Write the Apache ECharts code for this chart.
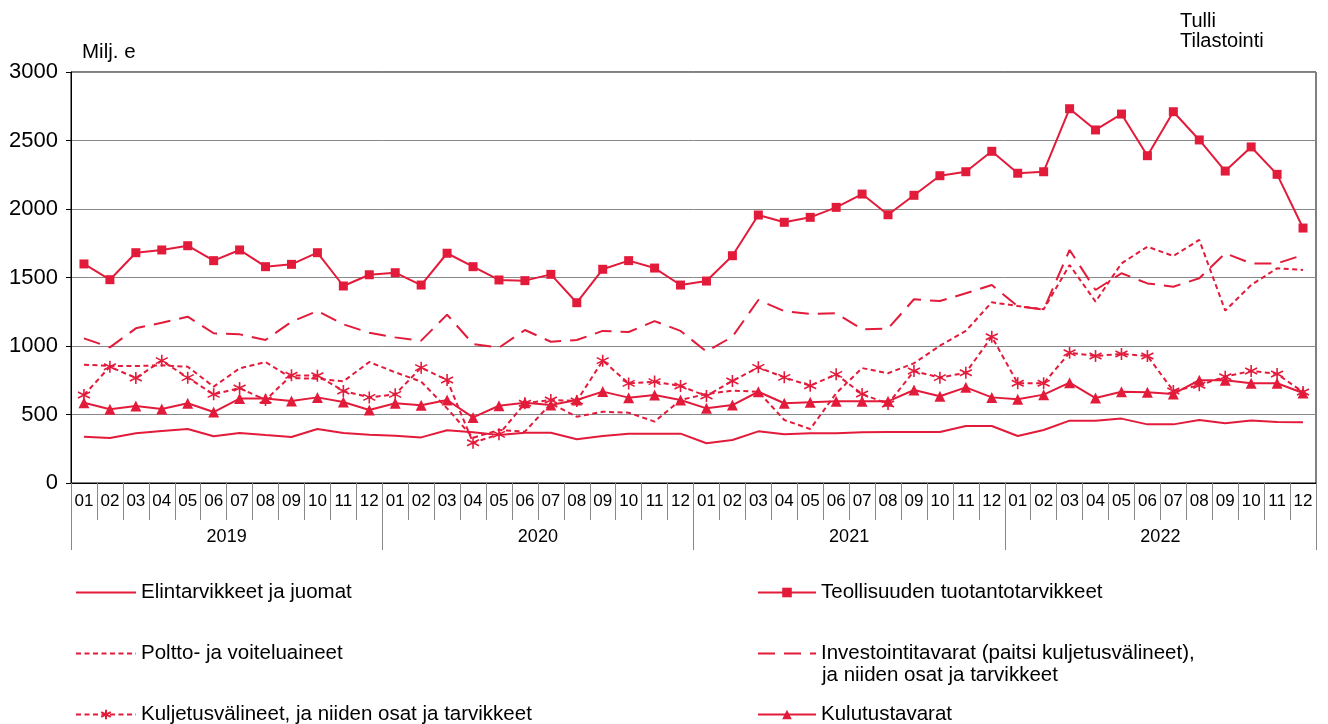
<!DOCTYPE html>
<html>
<head>
<meta charset="utf-8">
<script src="https://cdn.jsdelivr.net/npm/echarts@6/dist/echarts.min.js"></script>
<style>
html,body{margin:0;padding:0;background:#fff;}
#chart{width:1328px;height:724px;}
</style>
</head>
<body>
<div id="chart"></div>
<script>
// ---- data ----
const years = ['2019', '2020', '2021', '2022'];
const monthLabels = ['01','02','03','04','05','06','07','08','09','10','11','12'];
const yTicks = [0, 500, 1000, 1500, 2000, 2500, 3000];

const elintarvikkeet = [
  338, 328, 363, 380, 394, 341, 365, 350, 336, 394, 365, 353,
  345, 333, 385, 370, 350, 367, 367, 320, 343, 360, 360, 360,
  290, 314, 377, 355, 363, 363, 370, 372, 372, 372, 416, 416,
  343, 387, 455, 455, 470, 428, 428, 460, 436, 457, 445, 443
];
const teollisuus = [
  1599, 1484, 1681, 1701, 1732, 1623, 1701, 1579, 1596, 1681, 1438, 1520,
  1535, 1445, 1677, 1579, 1482, 1477, 1523, 1316, 1560, 1623, 1569, 1445,
  1474, 1659, 1956, 1903, 1939, 2012, 2109, 1958, 2100, 2243, 2272, 2421,
  2261, 2272, 2732, 2577, 2693, 2389, 2710, 2504, 2277, 2453, 2253, 1861
];
const poltto = [
  864, 854, 854, 859, 849, 703, 837, 883, 766, 761, 742, 883,
  808, 740, 545, 330, 387, 375, 580, 484, 520, 513, 448, 606,
  650, 674, 666, 460, 394, 655, 839, 801, 874, 1002, 1110, 1319,
  1292, 1268, 1591, 1324, 1603, 1725, 1657, 1774, 1258, 1445, 1567, 1555
];
const investointi = [
  1056, 990, 1129, 1170, 1214, 1093, 1085, 1044, 1177, 1255, 1158, 1097,
  1063, 1039, 1229, 1015, 988, 1117, 1031, 1044, 1110, 1102, 1182, 1110,
  959, 1068, 1336, 1255, 1234, 1239, 1122, 1127, 1341, 1328, 1385, 1445,
  1290, 1265, 1701, 1409, 1531, 1457, 1433, 1494, 1677, 1603, 1603, 1664
];
const kuljetus = [
  642, 849, 766, 893, 769, 647, 693, 606, 786, 783, 672, 625,
  647, 842, 752, 294, 355, 582, 606, 599, 893, 727, 740, 708,
  635, 745, 844, 771, 710, 793, 650, 577, 817, 769, 805, 1068,
  728, 728, 951, 927, 942, 927, 672, 713, 776, 818, 796, 664
];
const kulutus = [
  586, 538, 562, 540, 582, 518, 616, 616, 599, 625, 591, 533,
  582, 567, 606, 479, 564, 586, 569, 606, 667, 623, 642, 606,
  545, 569, 666, 582, 589, 596, 596, 596, 679, 633, 698, 625,
  611, 645, 732, 620, 666, 662, 650, 750, 750, 728, 728, 657
];

const names = {
  elin: 'Elintarvikkeet ja juomat',
  teol: 'Teollisuuden tuotantotarvikkeet',
  polt: 'Poltto- ja voiteluaineet',
  inve: 'Investointitavarat (paitsi kuljetusvälineet),',
  kulj: 'Kuljetusvälineet, ja niiden osat ja tarvikkeet',
  kulu: 'Kulutustavarat'
};
const inveSecondLine = 'ja niiden osat ja tarvikkeet';

// categories built from years x months
const categories = [];
years.forEach(y => monthLabels.forEach(m => categories.push(y + '-' + m)));

const RED = '#e31b3b';
const FONT = 'Liberation Sans, Arial, sans-serif';
const LEG_FS = 20.5;
const asterisk = 'path://M5,0L5,10M0.67,2.5L9.33,7.5M0.67,7.5L9.33,2.5';

const chart = echarts.init(document.getElementById('chart'), null, {renderer: 'canvas'});

function legendAt(name, left, top, width, noSymbol) {
  const l = {
    data: [name],
    left: left, top: top,
    orient: 'horizontal',
    itemWidth: width, itemHeight: 12,
    selectedMode: false,
    textStyle: {fontFamily: FONT, fontSize: LEG_FS, color: '#000'}
  };
  if (noSymbol) {
    l.itemStyle = {opacity: 0};
  }
  return l;
}

const option = {
  animation: false,
  textStyle: {fontFamily: FONT},
  title: [
    {text: 'Milj. e', left: 77, top: 37, textStyle: {fontFamily: FONT, fontSize: 20.5, fontWeight: 'normal', color: '#000'}},
    {text: 'Tulli\nTilastointi', left: 1175, top: 6, textStyle: {fontFamily: FONT, fontSize: 20, fontWeight: 'normal', color: '#000', lineHeight: 20}}
  ],
  graphic: [
    {type: 'text', left: 822, top: 665,
     style: {text: inveSecondLine, font: LEG_FS + 'px ' + FONT, fill: '#000'}}
  ],
  grid: {left: 71, right: 12, top: 72, bottom: 241, show: true, borderColor: '#000', borderWidth: 1},
  legend: [
    legendAt(names.elin, 70, 577, 60, true),
    legendAt(names.polt, 70, 638, 60, true),
    legendAt(names.kulj, 70, 699, 60, false),
    legendAt(names.teol, 752, 577, 58, false),
    legendAt(names.inve, 752, 638, 58, true),
    legendAt(names.kulu, 752, 699, 58, false)
  ],
  xAxis: [
    {
      type: 'category',
      data: categories,
      position: 'bottom',
      boundaryGap: true,
      axisLine: {show: true, lineStyle: {color: '#000', width: 1}},
      axisTick: {show: true, interval: 0, length: 37, lineStyle: {color: '#888', width: 1}},
      axisLabel: {
        interval: 0, margin: 10, fontSize: 17, color: '#000', fontFamily: FONT,
        formatter: function (v) { return v.split('-')[1]; }
      },
      splitLine: {show: false}
    },
    {
      type: 'category',
      data: years,
      position: 'bottom',
      boundaryGap: true,
      axisLine: {show: false},
      axisTick: {show: true, interval: 0, length: 67, lineStyle: {color: '#888', width: 1}},
      axisLabel: {interval: 0, margin: 45, fontSize: 18, color: '#000', fontFamily: FONT},
      splitLine: {show: false}
    }
  ],
  yAxis: {
    type: 'value',
    min: yTicks[0], max: yTicks[yTicks.length - 1], interval: 500,
    axisLine: {show: true, lineStyle: {color: '#000', width: 1}},
    axisTick: {show: true, inside: false, length: 5, lineStyle: {color: '#000'}},
    axisLabel: {fontSize: 22, color: '#000', margin: 13, fontFamily: FONT,
      formatter: function (v) { return String(v); }},
    splitLine: {show: true, lineStyle: {color: '#888', width: 1}}
  },
  series: [
    {
      name: names.elin, type: 'line', data: elintarvikkeet,
      symbol: 'none', showSymbol: false,
      lineStyle: {color: RED, width: 2}, itemStyle: {color: RED}
    },
    {
      name: names.teol, type: 'line', data: teollisuus,
      symbol: 'rect', symbolSize: 9, showSymbol: true,
      lineStyle: {color: RED, width: 2}, itemStyle: {color: RED}
    },
    {
      name: names.polt, type: 'line', data: poltto,
      symbol: 'none', showSymbol: false,
      lineStyle: {color: RED, width: 2, type: [5, 3.5]}, itemStyle: {color: RED}
    },
    {
      name: names.inve, type: 'line', data: investointi,
      symbol: 'none', showSymbol: false,
      lineStyle: {color: RED, width: 2, type: [17, 9]}, itemStyle: {color: RED}
    },
    {
      name: names.kulj, type: 'line', data: kuljetus,
      symbol: asterisk, symbolSize: 12, showSymbol: true,
      lineStyle: {color: RED, width: 2, type: [5, 3.5]},
      itemStyle: {color: RED, borderColor: RED, borderWidth: 1.6, borderType: 'solid'}
    },
    {
      name: names.kulu, type: 'line', data: kulutus,
      symbol: 'triangle', symbolSize: 11, showSymbol: true,
      lineStyle: {color: RED, width: 2}, itemStyle: {color: RED}
    }
  ]
};

chart.setOption(option);
</script>
</body>
</html>
